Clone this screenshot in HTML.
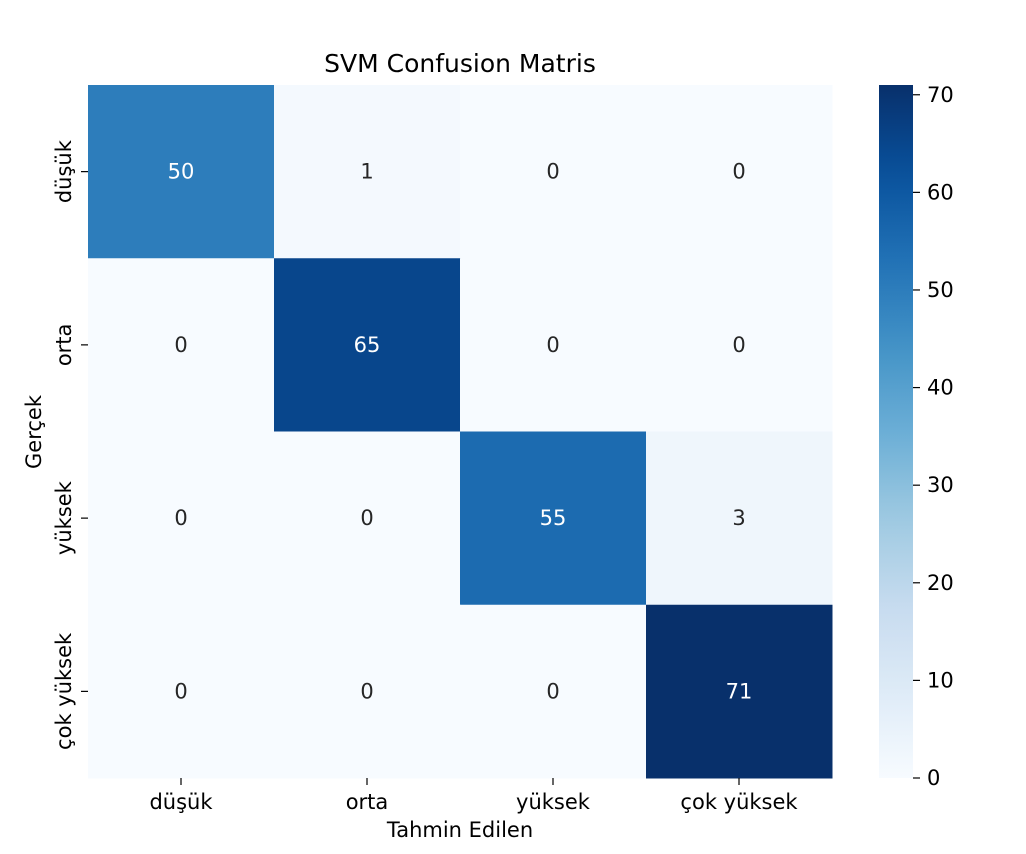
<!DOCTYPE html>
<html><head><meta charset="utf-8">
<style>
body{margin:0;background:#fff;}
svg{display:block;font-family:"DejaVu Sans","Liberation Sans",sans-serif;}
</style></head>
<body>
<svg id="chart" width="1026" height="854"></svg>
<script>
const labels = ["düşük","orta","yüksek","çok yüksek"];
const matrix = [
  [50,1,0,0],
  [0,65,0,0],
  [0,0,55,3],
  [0,0,0,71]
];
const cbTicks = [0,10,20,30,40,50,60,70];
const vmin = 0, vmax = 71;

const NS="http://www.w3.org/2000/svg";
const svg=document.getElementById('chart');
function mk(tag,attrs,parent){const e=document.createElementNS(NS,tag);for(const k in attrs)e.setAttribute(k,attrs[k]);(parent||svg).appendChild(e);return e;}
const stops=["#f7fbff","#deebf7","#c6dbef","#9ecae1","#6baed6","#4292c6","#2171b5","#08519c","#08306b"];
function hex(c){return [1,3,5].map(i=>parseInt(c.substr(i,2),16));}
function cmap(v){let t=Math.max(0,Math.min(1,(v-vmin)/(vmax-vmin)))*8;let i=Math.min(7,Math.floor(t));let f=t-i;const a=hex(stops[i]),b=hex(stops[i+1]);return `rgb(${a.map((x,k)=>Math.round(x+(b[k]-x)*f)).join(',')})`;}
const X0=88,X1=832,Y0=85,Y1=778;
const n=labels.length, cw=(X1-X0)/n, ch=(Y1-Y0)/n;
const xs=j=>X0+j*cw, ys=i=>Y0+i*ch;
const FS=21;

let t=mk('text',{x:460,y:72,'text-anchor':'middle','font-size':25,fill:'#000'});t.textContent="SVM Confusion Matris";



matrix.forEach((row,i)=>row.forEach((v,j)=>{
  const r=mk('rect',{x:xs(j),y:ys(i),width:cw+0.5,height:ch+0.5,fill:cmap(v)});
  
  
  const tx=mk('text',{x:xs(j)+cw/2,y:ys(i)+ch/2+7,'text-anchor':'middle','font-size':FS,fill:(v-vmin)/(vmax-vmin)>0.5?'#fff':'#262626'});
  tx.textContent=v;
  
  
}));

labels.forEach((l,j)=>{
  const cx=xs(j)+cw/2;
  mk('line',{x1:cx,x2:cx,y1:Y1,y2:Y1+7,stroke:'#000','stroke-width':1.2});
  const tx=mk('text',{x:cx,y:Y1+31,'text-anchor':'middle','font-size':FS,fill:'#000'});tx.textContent=l;
  
  
  const cy=ys(j)+ch/2;
  mk('line',{x1:X0-7,x2:X0,y1:cy,y2:cy,stroke:'#000','stroke-width':1.2});
  const ty=mk('text',{x:0,y:0,'text-anchor':'middle','font-size':FS,fill:'#000',transform:`translate(${X0-17},${cy}) rotate(-90)`});ty.textContent=l;
  
  
});
let xt=mk('text',{x:460,y:837,'text-anchor':'middle','font-size':FS,fill:'#000'});xt.textContent="Tahmin Edilen";


let yt=mk('text',{x:0,y:0,'text-anchor':'middle','font-size':FS,fill:'#000',transform:`translate(41,432) rotate(-90)`});yt.textContent="Gerçek";



// colorbar
const CX0=879,CX1=913;
const cy=v=>Y1-(v-vmin)/(vmax-vmin)*(Y1-Y0);
const defs=mk('defs',{});
const g=mk('linearGradient',{id:'cbg',x1:0,y1:1,x2:0,y2:0},defs);
for(let k=0;k<=20;k++){mk('stop',{offset:k/20,'stop-color':cmap(vmin+(vmax-vmin)*k/20)},g);}
const cb=mk('rect',{x:CX0,y:Y0,width:CX1-CX0,height:Y1-Y0,fill:'url(#cbg)'});


cbTicks.forEach(v=>{
  const y=cy(v);
  mk('line',{x1:CX1,x2:CX1+7,y1:y,y2:y,stroke:'#000','stroke-width':1.2});
  const tx=mk('text',{x:CX1+14,y:y+7,'font-size':FS,fill:'#000'});tx.textContent=v;
  
  
});
</script>
</body></html>
